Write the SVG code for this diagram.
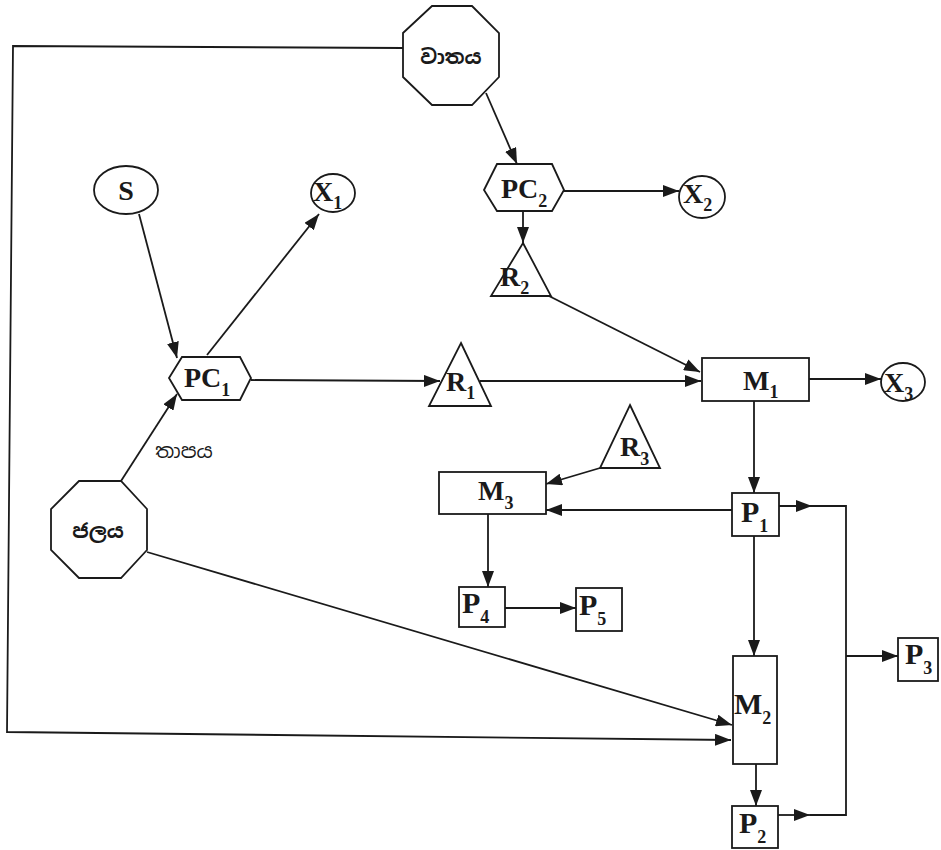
<svg xmlns="http://www.w3.org/2000/svg" width="941" height="850" viewBox="0 0 941 850">
<defs>
<marker id="ah" markerUnits="userSpaceOnUse" markerWidth="17" markerHeight="12" refX="16" refY="6" orient="auto">
<path d="M0,0 L16,6 L0,12 z" fill="#1a1a1a"/>
</marker>
<style>
.sh{fill:#fff;stroke:#1a1a1a;stroke-width:1.8}
.c{fill:none;stroke:#1a1a1a;stroke-width:1.8}
.a{marker-end:url(#ah)}
.t{font-family:"Liberation Serif","Times New Roman",serif;font-weight:bold;font-size:28px;fill:#1a1a1a}
.tp{font-size:30px}
.s{font-size:18px}
.si{font-family:"Noto Sans Sinhala","Noto Serif Sinhala","Noto Sans",sans-serif;font-weight:bold;font-size:20px;fill:#1a1a1a}
.sn{font-family:"Noto Sans Sinhala","Noto Serif Sinhala","Noto Sans",sans-serif;font-weight:normal;font-size:20px;fill:#1a1a1a}
</style>
</defs>
<rect width="941" height="850" fill="#fff"/>
<g id="connectors">
<polyline class="c a" points="403,48 13,46 7,732 731,740"/>
<line class="c a" x1="486" y1="93" x2="517" y2="164"/>
<line class="c a" x1="564" y1="191" x2="679" y2="191"/>
<line class="c a" x1="523" y1="211" x2="523" y2="243"/>
<line class="c a" x1="549" y1="296" x2="700" y2="372"/>
<line class="c a" x1="139" y1="214" x2="177" y2="358"/>
<line class="c a" x1="207" y1="355" x2="319" y2="214"/>
<line class="c a" x1="121" y1="481" x2="177" y2="394"/>
<line class="c a" x1="251" y1="380" x2="440" y2="381"/>
<line class="c a" x1="480" y1="381" x2="701" y2="381"/>
<line class="c a" x1="809" y1="379" x2="881" y2="379"/>
<line class="c a" x1="754" y1="401" x2="754" y2="493"/>
<line class="c a" x1="600" y1="468" x2="546" y2="484"/>
<line class="c a" x1="732" y1="510" x2="546" y2="510"/>
<line class="c a" x1="488" y1="514" x2="488" y2="587"/>
<line class="c a" x1="505" y1="608" x2="576" y2="608"/>
<line class="c a" x1="754" y1="536" x2="754" y2="656"/>
<line class="c a" x1="147" y1="552" x2="732" y2="725"/>
<line class="c a" x1="756" y1="764" x2="756" y2="806"/>
<line class="c a" x1="779" y1="506" x2="812" y2="506"/>
<path class="c" d="M812,506 H846 V815 H810"/>
<line class="c a" x1="778" y1="815" x2="810" y2="815"/>
<line class="c a" x1="846" y1="656" x2="898" y2="656"/>
</g>
<g id="vataya">
<polygon class="sh" points="432,6 472,6 499,33 499,77 472,105 432,105 403,77 403,33"/>
<text class="si" x="451" y="64" text-anchor="middle">වාතය</text>
</g>
<g id="jalaya">
<polygon class="sh" points="79,481 121,481 147,509 147,550 121,578 79,578 51,550 51,509"/>
<text class="si" x="98" y="538" text-anchor="middle">ජලය</text>
</g>
<g id="tapaya-label">
<text class="sn" x="184" y="458" text-anchor="middle">තාපය</text>
</g>
<g id="S">
<ellipse class="sh" cx="126" cy="190" rx="32" ry="24"/>
<text class="t" x="126" y="200" text-anchor="middle">S</text>
</g>
<g id="X1">
<ellipse class="sh" cx="333" cy="193" rx="22" ry="19"/>
<text class="t" x="313" y="201">X<tspan class="s" dy="8">1</tspan></text>
</g>
<g id="PC1">
<polygon class="sh" points="169,378 182,357 240,357 251,378 240,400 182,400"/>
<text class="t" x="184" y="387">PC<tspan class="s" dy="9">1</tspan></text>
</g>
<g id="PC2">
<polygon class="sh" points="484,190 497,164 552,164 564,190 552,211 497,211"/>
<text class="t" x="501" y="198">PC<tspan class="s" dy="9">2</tspan></text>
</g>
<g id="X2">
<ellipse class="sh" cx="702" cy="197" rx="23" ry="21"/>
<text class="t" x="683" y="203">X<tspan class="s" dy="8">2</tspan></text>
</g>
<g id="R2">
<polygon class="sh" points="523,243 551,296 491,296"/>
<text class="t" x="500" y="286">R<tspan class="s" dy="8">2</tspan></text>
</g>
<g id="R1">
<polygon class="sh" points="461,343 491,406 429,406"/>
<text class="t" x="446" y="391">R<tspan class="s" dy="8">1</tspan></text>
</g>
<g id="M1">
<rect class="sh" x="702" y="358" width="107" height="43"/>
<text class="t" x="743" y="390">M<tspan class="s" dy="8">1</tspan></text>
</g>
<g id="X3">
<ellipse class="sh" cx="903" cy="382" rx="22" ry="19"/>
<text class="t" x="884" y="392">X<tspan class="s" dy="8">3</tspan></text>
</g>
<g id="R3">
<polygon class="sh" points="630,405 660,468 600,468"/>
<text class="t" x="620" y="456">R<tspan class="s" dy="9">3</tspan></text>
</g>
<g id="M3">
<rect class="sh" x="439" y="472" width="107" height="42"/>
<text class="t" x="478" y="500">M<tspan class="s" dy="9">3</tspan></text>
</g>
<g id="P1">
<rect class="sh" x="732" y="493" width="47" height="43"/>
<text class="t tp" x="741" y="522">P<tspan class="s" dy="10">1</tspan></text>
</g>
<g id="P4">
<rect class="sh" x="459" y="587" width="46" height="40"/>
<text class="t tp" x="462" y="613">P<tspan class="s" dy="10">4</tspan></text>
</g>
<g id="P5">
<rect class="sh" x="576" y="588" width="46" height="43"/>
<text class="t tp" x="579" y="615">P<tspan class="s" dy="10">5</tspan></text>
</g>
<g id="M2">
<rect class="sh" x="733" y="656" width="44" height="108"/>
<text class="t tp" x="734" y="714">M<tspan class="s" dy="10">2</tspan></text>
</g>
<g id="P2">
<rect class="sh" x="732" y="806" width="46" height="42"/>
<text class="t tp" x="739" y="833">P<tspan class="s" dy="10">2</tspan></text>
</g>
<g id="P3">
<rect class="sh" x="898" y="638" width="40" height="43"/>
<text class="t tp" x="905" y="664">P<tspan class="s" dy="10">3</tspan></text>
</g>
</svg>
